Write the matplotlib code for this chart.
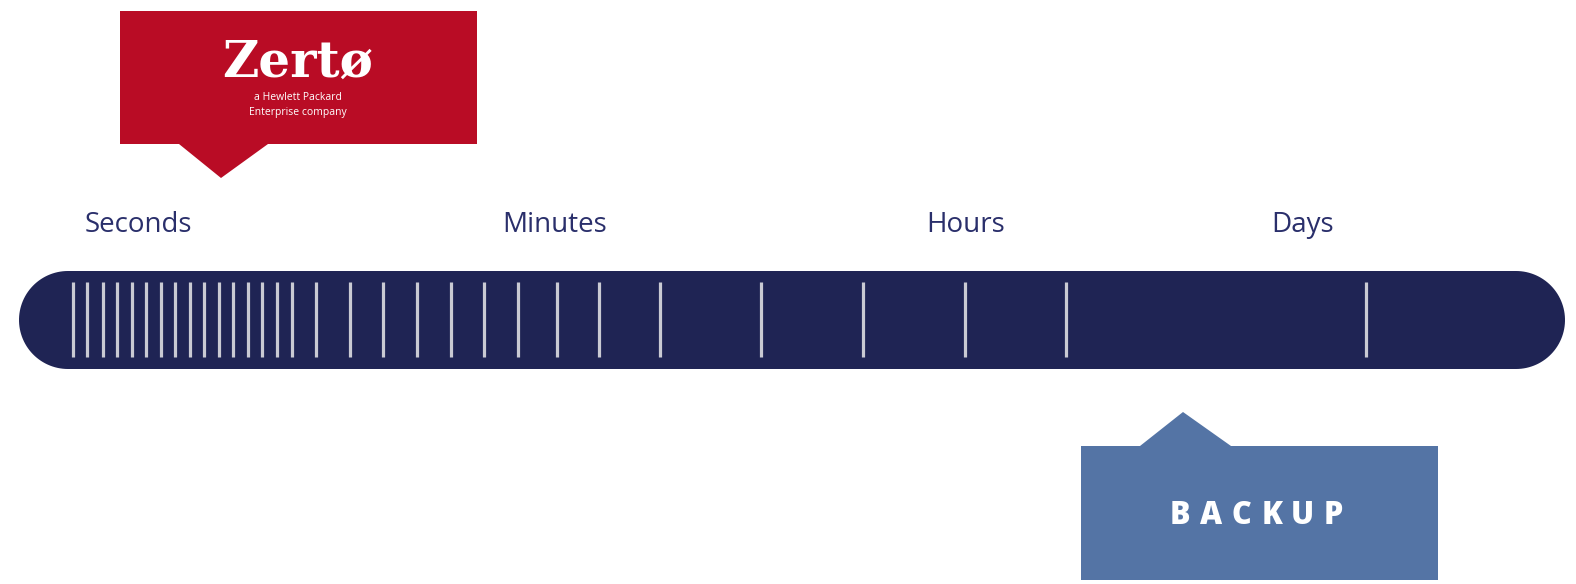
import numpy as np
import matplotlib.pyplot as plt
from matplotlib.patches import Polygon

# tick marks along the timeline (pixel x positions)
tick_x = [73, 87.5, 102.7, 117.4, 132.1, 146.4, 161.2, 175.4, 190.2, 204.5,
          219.2, 233, 247.8, 262.5, 276.8, 292, 316, 349.6, 383, 417.4,
          451, 484.4, 518, 556.7, 599, 660, 761, 862.7, 964.7, 1065.6, 1365.6]
scale_labels = ['Seconds', 'Minutes', 'Hours', 'Days']
scale_label_x = [138, 555, 966, 1303]
backup_word = 'BACKUP'

navy = '#1f2454'
label_col = '#2a2f6b'
red = '#b90c25'
blue = '#5474a5'

fig = plt.figure(figsize=(15.76, 5.84), dpi=100)
ax = fig.add_axes([0, 0, 1, 1])
ax.set_xlim(0, 1576)
ax.set_ylim(584, 0)
ax.axis('off')

# timeline bar with half-round ends
bx0, bx1, by0, by1 = 19, 1565, 271, 369
r = (by1 - by0) / 2
cy = (by0 + by1) / 2
rx = 49
t = np.linspace(-np.pi / 2, np.pi / 2, 60)
right = np.column_stack([bx1 - rx + rx * np.cos(t), cy + r * np.sin(t)])
left = np.column_stack([bx0 + rx - rx * np.cos(t), cy - r * np.sin(t)])
ax.add_patch(Polygon(np.vstack([right, left]), closed=True, fc=navy, ec='none'))
ax.vlines(tick_x, 282, 357, color='#c9cad3', lw=2.3)

for lab, x in zip(scale_labels, scale_label_x):
    ax.text(x, 225, lab, ha='center', va='center', fontsize=20,
            family='Open Sans', color=label_col)

# Zerto callout
ax.add_patch(Polygon([(120, 11), (477, 11), (477, 144), (268, 144), (221, 178),
                      (179, 144), (120, 144)], closed=True, fc=red, ec='none'))
ax.text(298, 63, 'Zertø', ha='center', va='center', fontsize=36,
        family='DejaVu Serif', weight='bold', color='white')
ax.text(298, 98, 'a Hewlett Packard', ha='center', va='center', fontsize=7.5,
        family='Open Sans', color='white')
ax.text(298, 112, 'Enterprise company', ha='center', va='center', fontsize=7.5,
        family='Open Sans', color='white')

# backup callout
ax.add_patch(Polygon([(1081, 446), (1140, 446), (1183, 412), (1231, 446),
                      (1438, 446), (1438, 580), (1081, 580)], closed=True,
                     fc=blue, ec='none'))
for ch, x in zip(backup_word, np.linspace(1180, 1333, len(backup_word))):
    ax.text(x, 516, ch, ha='center', va='center', fontsize=22,
            family='Open Sans', weight='heavy', color='white')

fig.savefig('out.png', dpi=100)
